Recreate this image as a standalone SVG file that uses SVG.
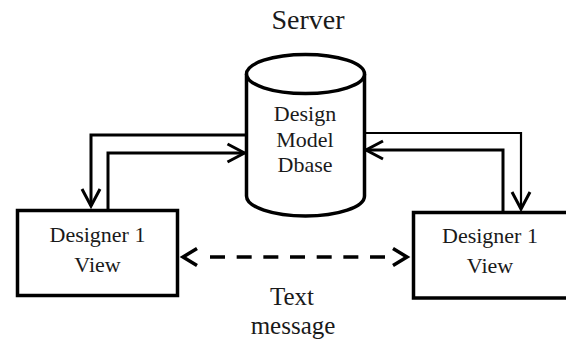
<svg xmlns="http://www.w3.org/2000/svg" width="566" height="347" viewBox="0 0 566 347">
<style>
  .box { fill: #fff; stroke: #000; stroke-width: 3.5; }
  .line { fill: none; stroke: #000; stroke-width: 3; stroke-linejoin: miter; }
  .thin { stroke-width: 2.2; }
  .dash { fill: none; stroke: #000; stroke-width: 3.5; stroke-dasharray: 15 11.67; }
  .t { font-family: "Liberation Serif", "Times New Roman", serif; fill: #1a1a1a; text-anchor: middle; }
  .big { font-size: 28px; }
  .lab { font-size: 25px; }
  .mid { font-size: 22px; }
</style>
<defs>
  <marker id="arr" markerUnits="userSpaceOnUse" markerWidth="20" markerHeight="20" viewBox="-18 -10 20 20" refX="0" refY="0" orient="auto" overflow="visible">
    <path d="M-17,-9 L0,0 L-17,9" fill="none" stroke="#000" stroke-width="3"/>
  </marker>
  <marker id="arrL" markerUnits="userSpaceOnUse" markerWidth="20" markerHeight="20" viewBox="-2 -10 20 20" refX="0" refY="0" orient="0" overflow="visible">
    <path d="M14,-8.5 L0,0 L14,8.5" fill="none" stroke="#000" stroke-width="3.5"/>
  </marker>
  <marker id="arrR" markerUnits="userSpaceOnUse" markerWidth="20" markerHeight="20" viewBox="-18 -10 20 20" refX="0" refY="0" orient="0" overflow="visible">
    <path d="M-14,-8.5 L0,0 L-14,8.5" fill="none" stroke="#000" stroke-width="3.5"/>
  </marker>
</defs>

<g id="connectors">
  <path class="line" d="M246,135 L91,135 L91,206" marker-end="url(#arr)"/>
  <path class="line" d="M108,209 L108,153 L244.5,153" marker-end="url(#arr)"/>
  <path class="line thin" d="M364,133 L521,133 L521,209" marker-end="url(#arr)"/>
  <path class="line" d="M503,211 L503,150 L366,150" marker-end="url(#arr)"/>
  <path class="dash" d="M183,257 M210,257 L385,257 M407,257" marker-start="url(#arrL)" marker-end="url(#arrR)"/>
  <g id="text-message-label">
    <text class="t lab" x="292" y="305">Text</text>
    <text class="t lab" x="293" y="334">message</text>
  </g>
</g>

<g id="server">
  <text class="t big" x="308" y="29">Server</text>
  <path class="box" d="M246.5,74 L246.5,196 A59,20 0 0 0 364.5,196 L364.5,74"/>
  <ellipse class="box" cx="305.5" cy="74" rx="59" ry="19.5"/>
  <text class="t mid" x="305" y="121">Design</text>
  <text class="t mid" x="305" y="147">Model</text>
  <text class="t mid" x="305" y="172">Dbase</text>
</g>

<g id="designer-left">
  <rect class="box" x="17.5" y="210.5" width="160" height="85"/>
  <text class="t mid" x="97.5" y="242">Designer 1</text>
  <text class="t mid" x="97.5" y="272">View</text>
</g>

<g id="designer-right">
  <rect class="box" x="413.5" y="212.5" width="160" height="85.5"/>
  <text class="t mid" x="490" y="243">Designer 1</text>
  <text class="t mid" x="490" y="273">View</text>
</g>
</svg>
